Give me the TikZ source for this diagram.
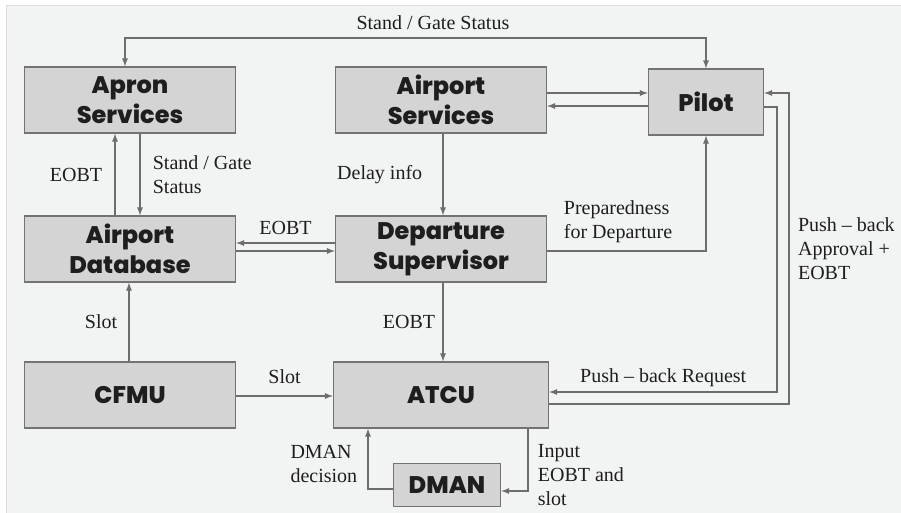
\documentclass[tikz,border=0pt]{standalone}
\usepackage{fontspec}
\setmainfont{Liberation Serif}
\newfontfamily\boxfont{Poppins}[UprightFont={* ExtraBold}, BoldFont={* ExtraBold}]
\usepackage{xcolor}
\usepackage{tikz}

\definecolor{panel}{HTML}{F2F3F3}
\definecolor{paneledge}{HTML}{DADBDB}
\definecolor{boxfill}{HTML}{D4D4D4}
\definecolor{boxline}{HTML}{737373}
\definecolor{flow}{HTML}{6D6D6D}
\definecolor{ink}{HTML}{1E1E1E}

\begin{document}
\begin{tikzpicture}[>=latex, line width=1.7pt, draw=flow,
  every node/.style={text=ink, font=\fontsize{20}{24}\selectfont},
  box/.style={draw=boxline, fill=boxfill, line width=1.4pt, minimum width=211pt,
    minimum height=66pt, align=center, font=\boxfont\fontsize{24}{30}\selectfont},
  lbl/.style={inner sep=2pt}]
  \useasboundingbox (-130pt,100pt) rectangle (771pt,-413pt);
  \fill [panel] (-123pt,94pt) rectangle (771pt,-413pt);
  \draw [paneledge, line width=1pt] (771pt,94pt) -- (-123pt,94pt) -- (-123pt,-413pt);

  \node [box] (apron) {Apron\\Services};
  \node [box, right of=apron, node distance=311pt] (airsrv) {Airport\\Services};
  \node [box, minimum width=115pt, right of=airsrv, node distance=265pt, yshift=-2pt] (pilot) {Pilot};
  \node [box, below of=apron, node distance=149pt] (airdb) {Airport\\Database};
  \node [box, right of=airdb, node distance=311pt] (depsup) {Departure\\Supervisor};
  \node [box, below of=airdb, node distance=146pt] (cfmu) {CFMU};
  \node [box, minimum width=215pt, right of=cfmu, node distance=311pt] (atcu) {ATCU};
  \node [box, minimum width=107pt, minimum height=43pt, below of=atcu, node distance=90pt, xshift=6pt] (dman) {DMAN};

  \draw [<->] ([xshift=-5pt]apron.north) -- ++(0,28pt) -| node[lbl, pos=0.265, above=6pt] {Stand / Gate Status} (pilot.north);

  \draw [->] ([xshift=-15pt]airdb.north) -- node[lbl, left=10pt] {EOBT} ([xshift=-15pt]apron.south);
  \draw [->] ([xshift=10pt]apron.south) -- node[lbl, right=10pt, align=left] {Stand / Gate\\Status} ([xshift=10pt]airdb.north);
  \draw [->] ([xshift=2pt]airsrv.south) -- node[lbl, left=18pt] {Delay info} ([xshift=2pt]depsup.north);
  \draw [->] ([yshift=6pt]depsup.west) -- node[lbl, above=5pt] {EOBT} ([yshift=6pt]airdb.east);
  \draw [->] ([yshift=-2pt]airdb.east) -- ([yshift=-2pt]depsup.west);
  \draw [->] ([yshift=7pt]airsrv.east) -- ([yshift=7pt]airsrv.east -| pilot.west);
  \draw [->] ([yshift=-6pt]airsrv.east -| pilot.west) -- ([yshift=-6pt]airsrv.east);
  \draw [->] ([yshift=-2pt]depsup.east) -| node[lbl, pos=0.223, above=5pt, align=left] {Preparedness\\for Departure} (pilot.south);

  \draw [->] ([xshift=2pt]depsup.south) -- node[lbl, left=5pt] {EOBT} ([xshift=2pt]atcu.north);
  \draw [->] ([xshift=-1pt]cfmu.north) -- node[lbl, left=9pt] {Slot} ([xshift=-1pt]airdb.south);
  \draw [->] ([yshift=-1pt]cfmu.east) -- node[lbl, above=9pt] {Slot} ([yshift=-1pt]atcu.west);

  \draw [->] ([yshift=-5pt]pilot.east) -- ++(13pt,0) |- node[lbl, pos=0.75, above=2pt] {Push – back Request} ([yshift=3pt]atcu.east);
  \draw [->] ([yshift=-9pt]atcu.east) -- ++(240pt,0) |- node[lbl, pos=0.25, right=6pt, align=left] {Push – back\\Approval +\\EOBT} ([yshift=9pt]pilot.east);

  \draw [->] ([xshift=87pt]atcu.south) |- node[lbl, pos=0.37, right=7pt, align=left] {Input\\EOBT and\\slot} ([yshift=-6pt]dman.east);
  \draw [->] ([yshift=-4pt]dman.west) -| node[lbl, pos=0.71, left=8pt, align=left] {DMAN\\decision} ([xshift=-73pt]atcu.south);
\end{tikzpicture}
\end{document}
